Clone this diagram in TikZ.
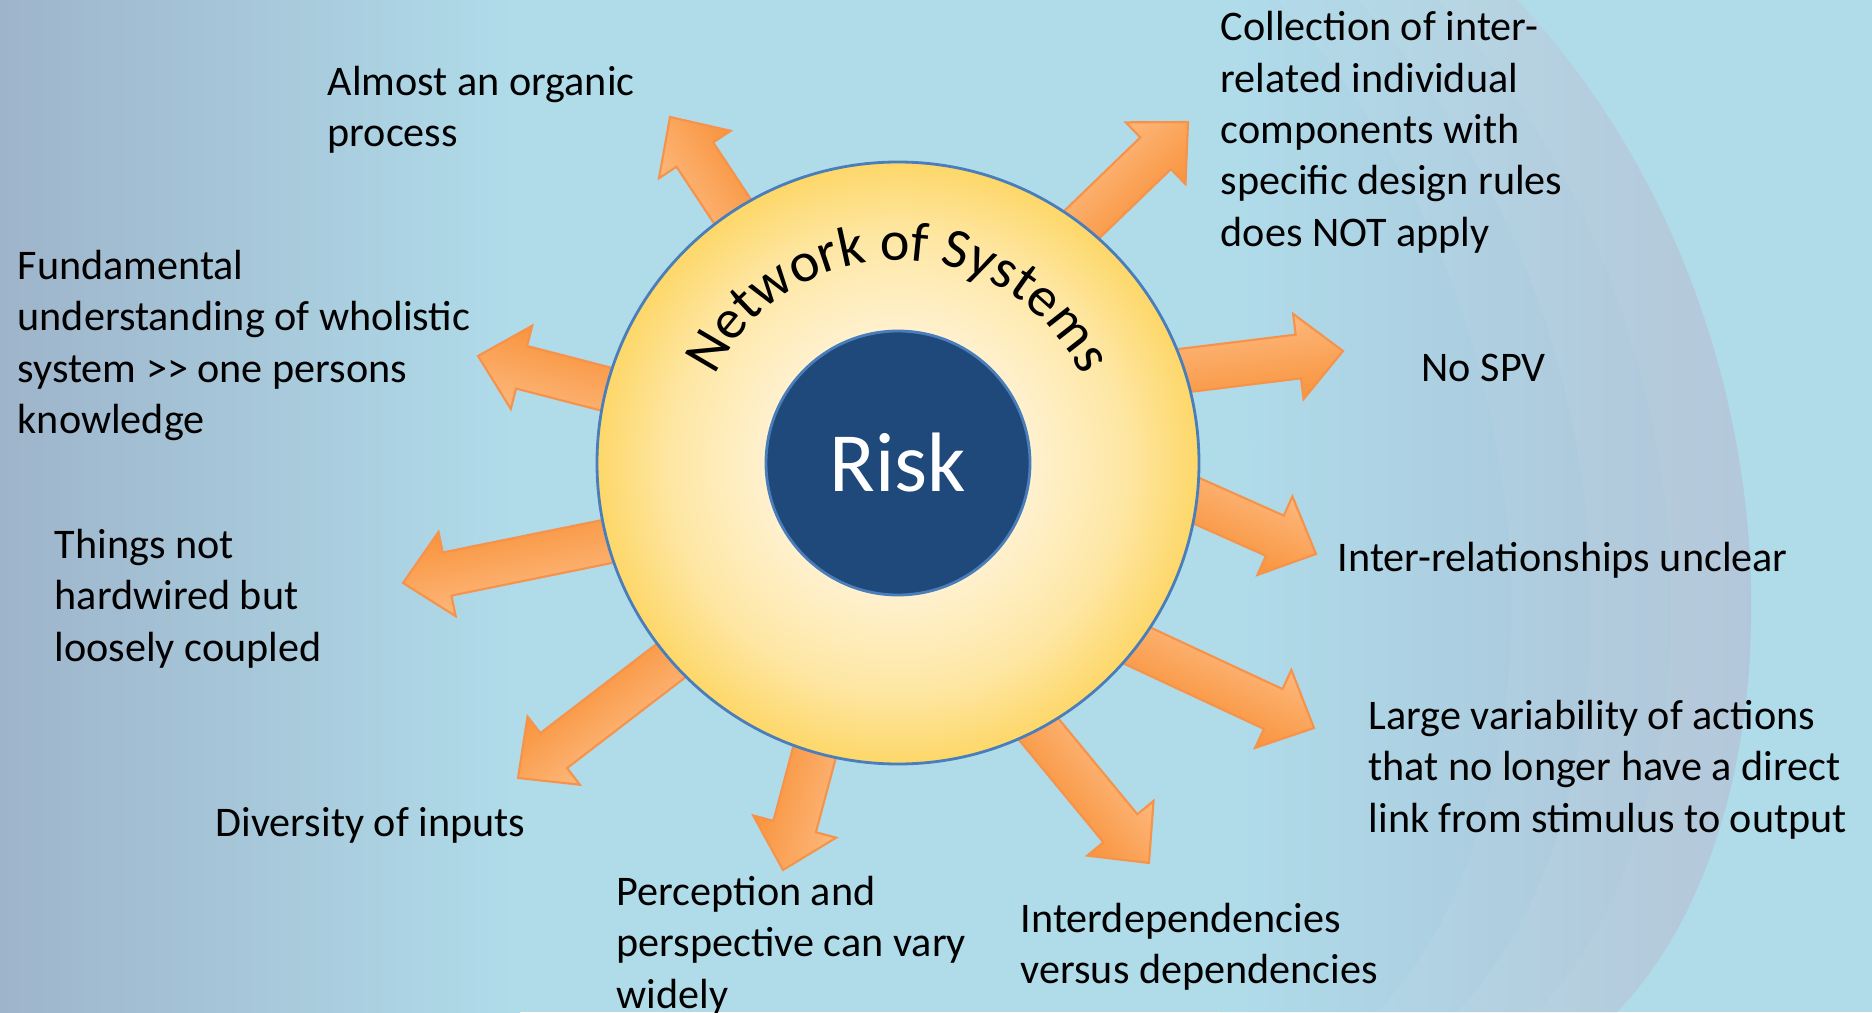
\documentclass[tikz,border=0pt]{standalone}
\usepackage{fontspec}
\setmainfont{Carlito}
\usetikzlibrary{calc,decorations.text}

\definecolor{bgcyan}{HTML}{B0DCEA}
\definecolor{bgslate}{HTML}{9EB4CA}
\definecolor{bglav}{HTML}{9CA9C6}
\definecolor{bglavlight}{HTML}{A6BCD3}
\definecolor{arrowlight}{HTML}{FDB87C}
\definecolor{arrowdark}{HTML}{F8933C}
\definecolor{arrowedge}{HTML}{F7924A}
\definecolor{ringblue}{HTML}{4A7EBB}
\definecolor{riskblue}{HTML}{20497B}

% cream centre fading to a yellow rim
\pgfdeclareradialshading{sunglow}{\pgfpoint{0bp}{0bp}}{%
  rgb(0bp)=(1,0.968,0.905);
  rgb(11bp)=(1,0.945,0.81);
  rgb(19bp)=(0.996,0.905,0.64);
  rgb(25bp)=(0.992,0.843,0.41);
  rgb(50bp)=(0.992,0.843,0.41)}

\tikzset{
  remark/.style={anchor=base west, inner sep=0pt, align=left,
    font=\fontsize{12}{14.6}\selectfont},
  blockarrow/.style={top color=arrowlight, bottom color=arrowdark,
    draw=arrowedge, line width=0.6pt, line join=miter}
}

\begin{document}
\begin{tikzpicture}
% background
\fill[bgcyan] (0,0) rectangle (18.72,10.12);
\useasboundingbox (0,0) rectangle (18.72,10.12);
\shade[left color=bgslate, right color=bgcyan] (0,0) rectangle (5.2,10.12);
\shade[left color=bgcyan, middle color=bglav, right color=bglavlight]
  (12.2,10.12) .. controls (12.6,7.0) and (12.6,3.0) .. (12.2,0) -- (16.17,0)
  .. controls (18.1,2.0) and (18.1,7.0) .. (15.17,10.12) -- cycle;
\begin{scope}
  \clip (12.2,10.12) .. controls (12.6,7.0) and (12.6,3.0) .. (12.2,0) -- (16.17,0)
    .. controls (18.1,2.0) and (18.1,7.0) .. (15.17,10.12) -- cycle;
  \foreach \s in {0.8,1.6,2.4} % lighter bands towards the rim
    \fill[white, opacity=0.05, xshift=-\s cm] (16.17,0)
      .. controls (18.1,2.0) and (18.1,7.0) .. (15.17,10.12) -- (22,10.12) -- (22,0) -- cycle;
\end{scope}

% arrow tips
\coordinate (organic-tip) at (6.70,8.95);
\coordinate (collection-tip) at (11.88,8.90);
\coordinate (nospv-tip) at (13.43,6.61);
\coordinate (interrel-tip) at (13.16,4.58);
\coordinate (variability-tip) at (13.14,2.84);
\coordinate (interdep-tip) at (11.49,1.49);
\coordinate (perception-tip) at (7.83,1.42);
\coordinate (diversity-tip) at (5.18,2.34);
\coordinate (hardwired-tip) at (4.03,4.29);
\coordinate (fundamental-tip) at (4.78,6.56);

\foreach \tip/\ang in {organic/123.5, collection/44, nospv/7, interrel/-24,
    variability/-25, interdep/-50.5, perception/-105, diversity/-142.5,
    hardwired/-168.5, fundamental/165.5} % shaft runs back under the disc
  \shade[blockarrow, transform canvas={shift={(\tip-tip)}, rotate=\ang}]
    (0,0) -- (-0.45,0.43) -- (-0.45,0.22) -- (-3,0.22) -- (-3,-0.22)
    -- (-0.45,-0.22) -- (-0.45,-0.43) -- cycle;

% the disc
\node[circle, minimum size=6.02cm, shade, shading=sunglow, draw=ringblue,
  line width=0.8pt] (systems) at (8.98,5.49) {};
\path[decorate, decoration={text along path, text align=center,
    text={|\fontsize{16}{19}\selectfont|Network of Systems}}]
  (systems.center) ++(155:2.03) arc[start angle=155, end angle=25, radius=2.03];
\node[circle, minimum size=2.64cm, fill=riskblue, draw=ringblue, line width=0.8pt,
  text=white, font=\fontsize{24}{28}\selectfont] (risk) at (systems.center) {Risk};

% texts, placed by the baseline of their last line
\node[remark] (organic) at (3.27,8.655) {Almost an organic\\process};
\node[remark] (collection) at (12.20,7.66) {Collection of inter-\\related individual\\components with\\specific design rules\\does NOT apply};
\node[remark] (nospv) at (14.21,6.31) {No SPV};
\node[remark] (interrel) at (13.37,4.41) {Inter-relationships unclear};
\node[remark] (variability) at (13.68,1.80) {Large variability of actions\\that no longer have a direct\\link from stimulus to output};
\node[remark] (interdep) at (10.20,0.285) {Interdependencies\\versus dependencies};
\node[remark] (perception) at (6.16,0.04) {Perception and\\perspective can vary\\widely};
\node[remark] (diversity) at (2.15,1.76) {Diversity of inputs};
\node[remark] (hardwired) at (0.54,3.51) {Things not\\hardwired but\\loosely coupled};
\node[remark] (fundamental) at (0.17,5.785) {Fundamental\\understanding of wholistic\\system >{}> one persons\\knowledge};
\end{tikzpicture}
\end{document}
